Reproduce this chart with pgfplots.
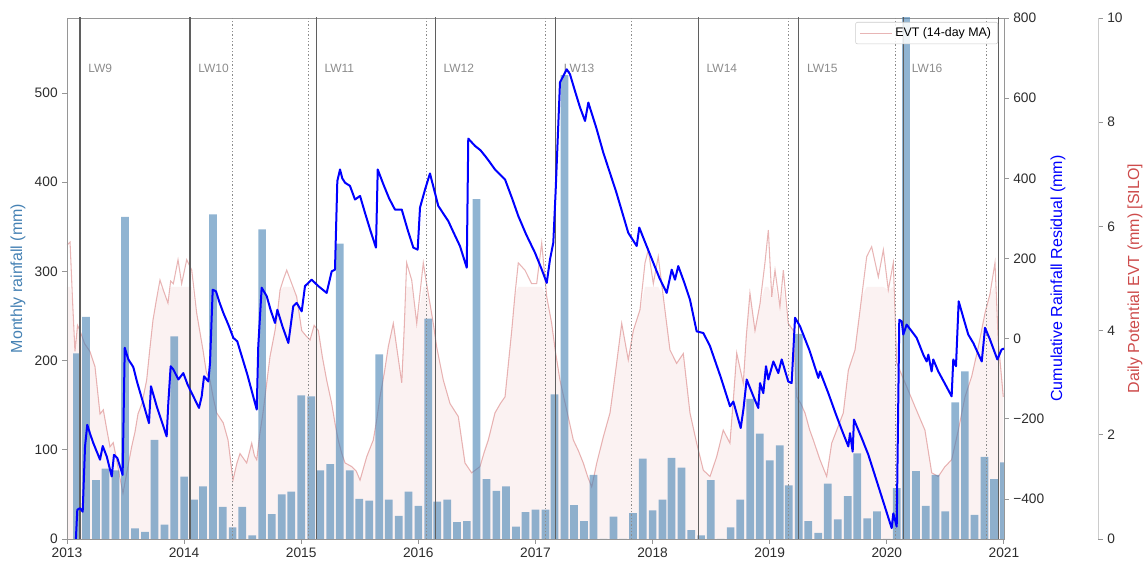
\documentclass[border=0pt]{standalone}
\usepackage{fontspec}
\setmainfont{Liberation Sans}
\usepackage{pgfplots}
\usepackage{pgfplotstable}
\pgfplotsset{compat=1.18}

\definecolor{barblue}{RGB}{70,130,180}
\definecolor{evtred}{RGB}{205,92,92}
\definecolor{framegray}{RGB}{150,150,150}
\definecolor{ticktext}{RGB}{45,45,45}
\definecolor{lwsolid}{RGB}{95,95,95}
\definecolor{lwdot}{RGB}{140,140,140}
\definecolor{lwtext}{RGB}{140,140,140}
\definecolor{evtlabel}{RGB}{205,75,75}

% Monthly rainfall (mm), plotted at month end
\pgfplotstableread{
t rain
2013.085 208
2013.162 249
2013.247 66
2013.329 79
2013.414 77
2013.496 361
2013.581 12
2013.666 8
2013.748 111
2013.833 16
2013.915 227
2014.000 70
2014.085 44
2014.162 59
2014.247 364
2014.329 36
2014.414 13
2014.496 36
2014.581 4
2014.666 347
2014.748 28
2014.833 50
2014.915 53
2015.000 161
2015.085 160
2015.162 77
2015.247 84
2015.329 331
2015.414 77
2015.496 45
2015.581 43
2015.666 207
2015.748 44
2015.833 26
2015.915 53
2016.000 37
2016.085 247
2016.162 42
2016.247 44
2016.329 19
2016.414 20
2016.496 381
2016.581 67
2016.666 54
2016.748 59
2016.833 14
2016.915 30
2017.000 33
2017.085 33
2017.162 162
2017.247 520
2017.329 38
2017.414 20
2017.496 72
2017.581 0
2017.666 25
2017.748 0
2017.833 29
2017.915 90
2018.000 32
2018.085 44
2018.162 91
2018.247 80
2018.329 10
2018.414 4
2018.496 66
2018.581 0
2018.666 13
2018.748 44
2018.833 157
2018.915 118
2019.000 88
2019.085 105
2019.162 60
2019.247 230
2019.329 20
2019.414 7
2019.496 62
2019.581 22
2019.666 48
2019.748 96
2019.833 23
2019.915 31
2020.000 0
2020.085 57
2020.164 600
2020.249 76
2020.331 37
2020.416 72
2020.498 31
2020.583 153
2020.666 188
2020.748 27
2020.833 92
2020.915 67
2021.000 86
}\raindata

% Cumulative rainfall residual (mm)
\pgfplotstableread{
t r
2013.075 -505
2013.088 -427
2013.111 -423
2013.134 -432
2013.154 -269
2013.173 -215
2013.200 -240
2013.225 -261
2013.282 -302
2013.305 -268
2013.339 -294
2013.382 -344
2013.401 -290
2013.430 -298
2013.475 -340
2013.493 -23
2013.524 -52
2013.566 -71
2013.600 -110
2013.640 -150
2013.700 -211
2013.717 -119
2013.766 -169
2013.851 -244
2013.865 -161
2013.885 -69
2013.908 -77
2013.951 -102
2013.993 -86
2014.030 -115
2014.065 -136
2014.127 -173
2014.150 -144
2014.170 -94
2014.207 -107
2014.221 -61
2014.244 122
2014.272 118
2014.300 92
2014.335 64
2014.380 33
2014.420 2
2014.454 -7
2014.540 -90
2014.620 -177
2014.633 -19
2014.662 127
2014.705 106
2014.740 70
2014.776 39
2014.796 72
2014.840 30
2014.890 -11
2014.932 81
2014.961 89
2015.004 68
2015.032 131
2015.089 147
2015.146 131
2015.217 114
2015.260 168
2015.288 172
2015.308 393
2015.331 422
2015.350 400
2015.374 389
2015.416 381
2015.459 347
2015.502 356
2015.544 314
2015.590 270
2015.638 227
2015.653 422
2015.701 385
2015.750 350
2015.800 322
2015.858 322
2015.910 270
2015.957 227
2015.994 222
2016.014 327
2016.057 372
2016.099 412
2016.170 331
2016.256 293
2016.300 265
2016.355 231
2016.413 177
2016.426 499
2016.483 481
2016.530 470
2016.569 456
2016.610 440
2016.654 422
2016.740 397
2016.800 350
2016.853 306
2016.920 260
2016.996 214
2017.050 175
2017.096 139
2017.124 198
2017.152 239
2017.172 368
2017.209 639
2017.266 672
2017.294 660
2017.340 615
2017.380 577
2017.423 543
2017.451 589
2017.520 525
2017.579 464
2017.690 365
2017.792 264
2017.864 231
2017.886 277
2017.950 230
2018.006 189
2018.060 150
2018.120 114
2018.163 172
2018.191 147
2018.219 181
2018.270 140
2018.319 97
2018.376 18
2018.433 14
2018.490 -19
2018.580 -95
2018.661 -169
2018.689 -157
2018.752 -223
2018.775 -177
2018.803 -102
2018.860 -144
2018.902 -173
2018.917 -111
2018.945 -136
2018.968 -69
2018.988 -102
2019.031 -57
2019.073 -86
2019.102 -52
2019.158 -107
2019.187 -111
2019.216 52
2019.258 31
2019.340 -30
2019.415 -98
2019.429 -82
2019.500 -136
2019.560 -185
2019.614 -227
2019.671 -269
2019.685 -236
2019.708 -282
2019.719 -202
2019.785 -248
2019.842 -290
2019.940 -380
2020.041 -473
2020.055 -436
2020.084 -469
2020.106 47
2020.127 43
2020.140 10
2020.169 35
2020.254 2
2020.311 -40
2020.340 -57
2020.354 -40
2020.382 -82
2020.396 -52
2020.439 -82
2020.500 -115
2020.553 -144
2020.567 -52
2020.590 -69
2020.613 93
2020.655 50
2020.695 10
2020.738 -11
2020.810 -57
2020.823 -19
2020.838 27
2020.880 -2
2020.943 -52
2020.980 -27
2021.000 -25
}\residdata

% Daily potential evapotranspiration, 14-day moving average (mm)
\pgfplotstableread{
t evt
2013.000 5.64
2013.026 5.70
2013.047 4.60
2013.068 3.60
2013.090 4.10
2013.111 4.00
2013.150 3.75
2013.196 3.60
2013.239 3.31
2013.282 2.40
2013.310 2.48
2013.340 2.10
2013.367 1.77
2013.395 1.85
2013.424 1.52
2013.450 1.20
2013.478 0.88
2013.510 1.27
2013.552 1.77
2013.580 2.05
2013.606 2.40
2013.640 2.60
2013.680 3.05
2013.705 3.60
2013.734 4.20
2013.760 4.55
2013.794 4.97
2013.822 4.78
2013.862 4.53
2013.885 4.95
2013.908 4.90
2013.948 5.36
2013.979 4.90
2014.022 5.36
2014.065 5.16
2014.107 4.34
2014.161 3.63
2014.190 3.20
2014.221 3.05
2014.250 2.70
2014.278 2.42
2014.334 2.23
2014.375 1.90
2014.417 1.13
2014.450 1.45
2014.477 1.64
2014.534 1.46
2014.577 1.84
2014.600 1.60
2014.620 1.52
2014.645 2.00
2014.673 2.42
2014.700 2.90
2014.733 3.50
2014.776 4.00
2014.800 4.40
2014.819 4.78
2014.850 5.00
2014.876 5.16
2014.919 4.90
2014.961 4.65
2015.004 4.00
2015.040 3.90
2015.075 3.82
2015.110 4.10
2015.146 4.00
2015.180 3.50
2015.217 3.05
2015.260 2.60
2015.290 2.20
2015.316 1.90
2015.345 1.65
2015.374 1.46
2015.431 1.39
2015.470 1.30
2015.502 1.13
2015.530 1.35
2015.559 1.58
2015.615 1.90
2015.645 2.30
2015.672 2.73
2015.710 3.20
2015.743 3.69
2015.786 4.14
2015.820 3.60
2015.858 3.00
2015.880 4.10
2015.900 5.30
2015.943 4.97
2015.986 4.14
2016.042 5.30
2016.070 4.90
2016.099 4.52
2016.130 4.10
2016.156 3.69
2016.213 3.05
2016.270 2.60
2016.341 2.35
2016.370 1.90
2016.398 1.46
2016.455 1.27
2016.526 1.39
2016.560 1.65
2016.597 1.90
2016.654 2.42
2016.700 2.60
2016.740 2.73
2016.770 3.40
2016.797 4.00
2016.825 4.70
2016.853 5.30
2016.910 5.16
2016.967 4.90
2017.010 4.90
2017.053 5.68
2017.096 4.65
2017.138 4.14
2017.170 3.60
2017.209 3.05
2017.266 2.48
2017.323 1.90
2017.365 1.70
2017.408 1.46
2017.445 1.20
2017.480 1.00
2017.523 1.46
2017.579 1.96
2017.636 2.42
2017.665 2.90
2017.693 3.38
2017.736 4.14
2017.792 3.44
2017.835 4.00
2017.892 4.40
2017.935 5.30
2017.963 5.55
2018.006 4.90
2018.048 5.42
2018.091 4.65
2018.148 3.63
2018.205 3.37
2018.262 3.56
2018.319 2.42
2018.376 1.84
2018.433 1.32
2018.490 1.20
2018.547 1.58
2018.603 2.09
2018.660 1.84
2018.690 2.70
2018.718 3.57
2018.774 2.99
2018.800 3.90
2018.831 4.72
2018.874 4.00
2018.917 4.52
2018.959 5.30
2018.988 5.93
2019.017 4.65
2019.045 5.16
2019.087 4.46
2019.116 5.16
2019.158 4.14
2019.201 4.00
2019.230 2.73
2019.265 2.60
2019.301 2.42
2019.340 2.10
2019.372 1.90
2019.429 1.52
2019.486 1.20
2019.529 1.84
2019.572 2.09
2019.628 2.42
2019.671 3.24
2019.728 3.63
2019.760 4.20
2019.785 4.65
2019.828 5.42
2019.870 5.61
2019.927 5.03
2019.970 5.55
2020.012 4.78
2020.055 5.30
2020.084 3.38
2020.155 3.00
2020.240 2.54
2020.325 2.09
2020.383 1.27
2020.439 1.20
2020.496 1.39
2020.553 1.52
2020.610 2.09
2020.667 2.73
2020.724 3.12
2020.781 3.69
2020.838 4.34
2020.880 4.70
2020.923 5.30
2020.951 3.80
2020.994 2.73
}\evtdata

% Longwall panel start (solid) and end (dotted) dates
\pgfplotstableread{
t y
2013.111 600
2014.051 600
2015.128 600
2016.145 600
2017.171 600
2018.391 600
2019.248 600
2020.143 600
2020.955 600
}\lwstart
\pgfplotstableread{
t y
2014.416 600
2015.057 600
2016.068 600
2017.085 600
2017.821 600
2019.162 600
2020.077 600
2020.846 600
}\lwend

\pgfplotsset{
  common/.style={
    at={(0pt,0pt)}, anchor=south west, scale only axis,
    height=390.75pt, xmin=2013,
    ticklabel style={font=\fontsize{10.3}{12}\selectfont, text=ticktext},
    /pgf/number format/assume math mode=true,
    /pgf/number format/1000 sep={},
    tick align=outside, major tick length=3.5pt,
    tick style={framegray, line width=0.6pt},
    axis line style={framegray, line width=0.7pt},
    label style={font=\fontsize{12}{14}\selectfont},
  },
}
\tikzset{
  lwlabel/.style={anchor=west, inner sep=0pt, xshift=6pt, text=lwtext,
    font=\fontsize{9}{10}\selectfont},
}

\begin{document}
\begin{tikzpicture}

% EVT axis (outer right spine), drawn first so it sits behind the bars
\begin{axis}[common,
  width=773.25pt, xmax=2021.8026,
  ymin=0, ymax=10, ytick={0,2,...,10},
  axis x line=none, axis y line*=right,
  y axis line style={color=gray!40, line width=0.7pt},
  ylabel={Daily Potential EVT (mm) [SILO]},
  ylabel style={text=evtlabel, at={(axis description cs:1.0359,0.5)}, anchor=center},
]
\addplot[draw=none, fill=evtred, fill opacity=0.08, forget plot]
  table[x=t, y expr={min(\thisrow{evt},4.84)}] {\evtdata} \closedcycle;
\addplot[evtred, draw opacity=0.45, line width=0.8pt, no markers]
  table[x=t, y=evt] {\evtdata};
\end{axis}

% Monthly rainfall bars and longwall panel markers
\begin{axis}[common,
  width=702.75pt, xmax=2021,
  ymin=0, ymax=584, ytick={0,100,...,500},
  xtick={2013,...,2021}, xtick pos=bottom, ytick pos=left,
  ylabel={Monthly rainfall (mm)},
  ylabel style={text=barblue, at={(axis description cs:-0.0523,0.5)}, anchor=center},
]
\addplot[ybar, bar width=0.066, bar shift=0pt, draw=none,
  fill=barblue, fill opacity=0.6] table[x=t, y=rain] {\raindata};
\addplot[ycomb, no markers, lwsolid, line width=1pt] table[x=t, y=y] {\lwstart};
\addplot[ycomb, no markers, lwdot, line width=0.6pt, dash pattern=on 1pt off 1.5pt]
  table[x=t, y=y] {\lwend};
\node[lwlabel] at (axis cs:2013.111,528) {LW9};
\node[lwlabel] at (axis cs:2014.051,528) {LW10};
\node[lwlabel] at (axis cs:2015.128,528) {LW11};
\node[lwlabel] at (axis cs:2016.145,528) {LW12};
\node[lwlabel] at (axis cs:2017.171,528) {LW13};
\node[lwlabel] at (axis cs:2018.391,528) {LW14};
\node[lwlabel] at (axis cs:2019.248,528) {LW15};
\node[lwlabel] at (axis cs:2020.143,528) {LW16};
\end{axis}

% Cumulative rainfall residual on the inner right axis
\begin{axis}[common,
  width=702.75pt, xmax=2021,
  ymin=-500, ymax=800,
  ytick={-400,-200,0,200,400,600,800},
  yticklabels={−400,−200,0,200,400,600,800},
  axis x line=none, axis y line*=right,
  ylabel={Cumulative Rainfall Residual (mm)},
  ylabel style={text=blue, at={(axis description cs:1.0576,0.5)}, anchor=center},
  legend style={at={(0.9936,0.9923)}, anchor=north east,
    draw=gray!40, rounded corners=1.5pt, fill=white, fill opacity=0.85,
    text opacity=1, font=\fontsize{9.3}{11}\selectfont,
    inner xsep=3pt, inner ysep=2pt},
  legend cell align=left,
  legend image code/.code={\draw[#1] (0pt,0pt) -- (24pt,0pt);},
]
\addplot[blue, line width=1.5pt, no markers, line join=round, forget plot]
  table[x=t, y=r] {\residdata};
\addlegendimage{evtred, draw opacity=0.45, line width=0.8pt}
\addlegendentry{EVT (14-day MA)}
\end{axis}

\pgfresetboundingbox
\useasboundingbox (-50.25pt,-18pt) rectangle (809.25pt,404.25pt);
\end{tikzpicture}
\end{document}
